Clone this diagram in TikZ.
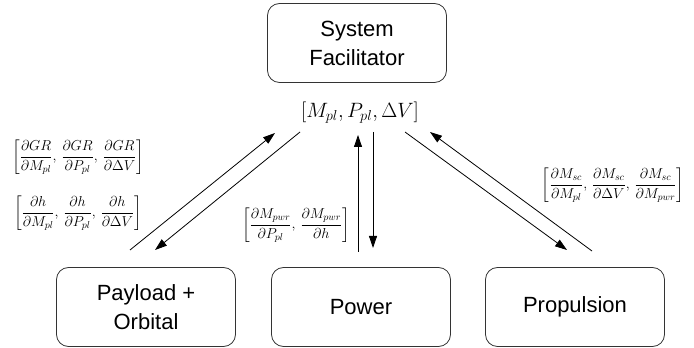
\documentclass[tikz,border=0pt]{standalone}
\usepackage{amsmath}
\usepackage{fontspec}
\setmainfont{Liberation Sans}
\usepackage{tikz}
\usetikzlibrary{arrows.meta}

\tikzset{
	block/.style={draw=black!80, line width=0.8pt, rounded corners=12pt, minimum width=179pt, minimum height=79pt, align=center, font=\fontsize{22}{29}\selectfont},
	link/.style={line width=0.8pt, -{Triangle[length=12pt,width=8pt]}},
	vec/.style={font=\fontsize{14.5}{17}\selectfont, inner sep=0pt}
}

\begin{document}
\begin{tikzpicture}[x=1pt, y=1pt]
	\useasboundingbox (0,0) rectangle (694,348);

	% Draw blocks
	\node[block] (sys) at (357,305) {System\\Facilitator};
	\node[block] (pay) at (146,41) {Payload +\\Orbital};
	\node[block] (pwr) at (361,41) {Power};
	\node[block] (prop) at (575,41) {Propulsion};

	% Arrow ends
	%Left
	\coordinate (l1) at (130,98);
	\coordinate (l2) at (275,215);
	\coordinate (l3) at (300,216);
	\coordinate (l4) at (155,98);
	%Middle
	\coordinate (m1) at (358,96);
	\coordinate (m2) at (358,213);
	\coordinate (m3) at (373,216);
	\coordinate (m4) at (373,100);
	%Right
	\coordinate (r1) at (405,216);
	\coordinate (r2) at (567,98);
	\coordinate (r3) at (592,97);
	\coordinate (r4) at (430,216);

	% Draw arrows
	\draw[link] (l1) -- (l2);
	\draw[link] (l3) -- (l4);
	\draw[link] (m1) -- (m2);
	\draw[link] (m3) -- (m4);
	\draw[link] (r1) -- (r2);
	\draw[link] (r3) -- (r4);

	% Add labels
	\node[vec, font=\fontsize{20}{22}\selectfont] (design) at (360,235) {$\left[M_{pl}, P_{pl}, \Delta V\right]$};
	\node[vec] (gr) at (78,191) {$\displaystyle\left[\frac{\partial GR}{\partial M_{pl}},\,\frac{\partial GR}{\partial P_{pl}},\,\frac{\partial GR}{\partial \Delta V}\right]$};
	\node[vec] (alt) at (78,135) {$\displaystyle\left[\frac{\partial h}{\partial M_{pl}},\,\frac{\partial h}{\partial P_{pl}},\,\frac{\partial h}{\partial \Delta V}\right]$};
	\node[vec] (pw) at (296,123) {$\displaystyle\left[\frac{\partial M_{pwr}}{\partial P_{pl}},\,\frac{\partial M_{pwr}}{\partial h}\right]$};
	\node[vec] (sc) at (613,163) {$\displaystyle\left[\frac{\partial M_{sc}}{\partial M_{pl}},\,\frac{\partial M_{sc}}{\partial \Delta V},\,\frac{\partial M_{sc}}{\partial M_{pwr}}\right]$};

\end{tikzpicture}
\end{document}
